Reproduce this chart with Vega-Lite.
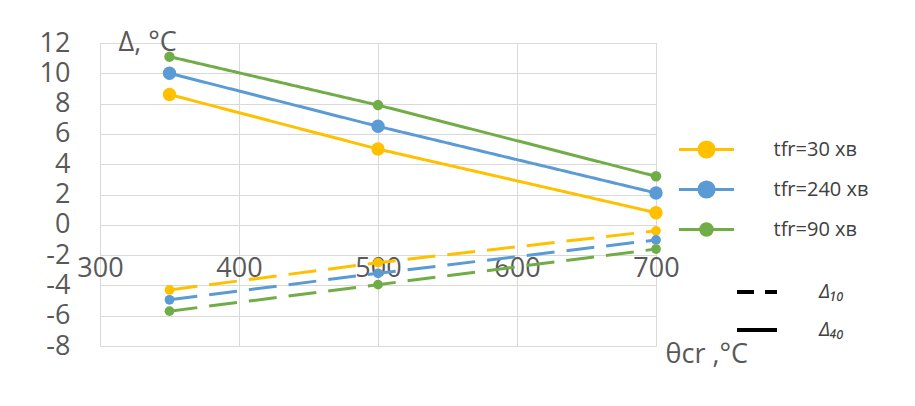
{
  "$schema": "https://vega.github.io/schema/vega-lite/v6.json",
  "width": 556,
  "height": 303,
  "autosize": "none",
  "padding": {"left": 100, "top": 43, "right": 259, "bottom": 60},
  "background": "white",
  "config": {
    "font": "Open Sans",
    "view": {"stroke": "#d9d9d9", "strokeWidth": 1},
    "axis": {"gridColor": "#d9d9d9", "gridWidth": 1, "labelColor": "#595959", "titleColor": "#595959", "labelFont": "Open Sans", "titleFont": "Open Sans", "labelFontSize": 27, "titleFontSize": 27, "titleFontWeight": "normal", "domain": false, "ticks": false, "tickSize": 0, "labelFlush": false, "labelOverlap": false}
  },
  "data": {
    "values": [
      {"theta": 350, "val": 8.6, "series": "tfr=30 хв", "type": "Δ₄₀"},
      {"theta": 500, "val": 5.0, "series": "tfr=30 хв", "type": "Δ₄₀"},
      {"theta": 700, "val": 0.8, "series": "tfr=30 хв", "type": "Δ₄₀"},
      {"theta": 350, "val": 10.0, "series": "tfr=240 хв", "type": "Δ₄₀"},
      {"theta": 500, "val": 6.5, "series": "tfr=240 хв", "type": "Δ₄₀"},
      {"theta": 700, "val": 2.1, "series": "tfr=240 хв", "type": "Δ₄₀"},
      {"theta": 350, "val": 11.1, "series": "tfr=90 хв", "type": "Δ₄₀"},
      {"theta": 500, "val": 7.9, "series": "tfr=90 хв", "type": "Δ₄₀"},
      {"theta": 700, "val": 3.2, "series": "tfr=90 хв", "type": "Δ₄₀"},
      {"theta": 350, "val": -4.3, "series": "tfr=30 хв", "type": "Δ₁₀"},
      {"theta": 500, "val": -2.5, "series": "tfr=30 хв", "type": "Δ₁₀"},
      {"theta": 700, "val": -0.4, "series": "tfr=30 хв", "type": "Δ₁₀"},
      {"theta": 350, "val": -4.95, "series": "tfr=240 хв", "type": "Δ₁₀"},
      {"theta": 500, "val": -3.2, "series": "tfr=240 хв", "type": "Δ₁₀"},
      {"theta": 700, "val": -1.0, "series": "tfr=240 хв", "type": "Δ₁₀"},
      {"theta": 350, "val": -5.7, "series": "tfr=90 хв", "type": "Δ₁₀"},
      {"theta": 500, "val": -3.95, "series": "tfr=90 хв", "type": "Δ₁₀"},
      {"theta": 700, "val": -1.6, "series": "tfr=90 хв", "type": "Δ₁₀"}
    ]
  },
  "encoding": {
    "x": {
      "field": "theta", "type": "quantitative",
      "scale": {"domain": [300, 700], "nice": false, "zero": false},
      "axis": {"values": [300, 400, 500, 600, 700], "offset": -122, "labelPadding": 31, "title": "θcr ,°C", "titleX": 565, "titleY": 138, "titleAlign": "left", "titleBaseline": "alphabetic", "titleAnchor": null}
    },
    "y": {
      "field": "val", "type": "quantitative",
      "scale": {"domain": [-8, 12], "nice": false, "zero": false},
      "axis": {"values": [-8, -6, -4, -2, 0, 2, 4, 6, 8, 10, 12], "labelExpr": "toString(datum.value)", "labelPadding": 30, "title": "Δ, °C", "titleAngle": 0, "titleX": 18, "titleY": 7, "titleAlign": "left", "titleBaseline": "alphabetic"}
    }
  },
  "layer": [
    {
      "mark": {"type": "line", "strokeWidth": 3},
      "encoding": {
        "detail": {"field": "type"},
        "order": {"field": "theta"},
        "color": {
          "field": "series", "type": "nominal",
          "scale": {"domain": ["tfr=30 хв", "tfr=240 хв", "tfr=90 хв"], "range": ["#FFC000", "#5B9BD5", "#70AD47"]},
          "legend": {
            "title": null, "orient": "none", "legendX": 591, "legendY": 91, "padding": 0,
            "symbolType": "M-2,0L2,0M-0.55,0A0.55,0.55,0,1,1,0.55,0A0.55,0.55,0,1,1,-0.55,0Z",
            "symbolSize": 756, "labelOffset": 51.5, "rowPadding": 10,
            "labelFont": "Open Sans", "labelFontSize": 20, "labelColor": "#404040", "labelLimit": 300,
            "encode": {
              "symbols": {
                "update": {
                  "fill": {"scale": "color", "field": "value"},
                  "stroke": {"scale": "color", "field": "value"},
                  "strokeWidth": {"value": 3},
                  "opacity": {"value": 1},
                  "shape": [
                    {"test": "datum.value === 'tfr=90 хв'", "value": "M-2,0L2,0M-0.42,0A0.42,0.42,0,1,1,0.42,0A0.42,0.42,0,1,1,-0.42,0Z"},
                    {"value": "M-2,0L2,0M-0.55,0A0.55,0.55,0,1,1,0.55,0A0.55,0.55,0,1,1,-0.55,0Z"}
                  ]
                }
              }
            }
          }
        },
        "strokeDash": {
          "field": "type", "type": "nominal",
          "scale": {"domain": ["Δ₁₀", "Δ₄₀"], "range": [[28, 12], [1, 0]]},
          "legend": null
        }
      }
    },
    {
      "mark": {"type": "point", "filled": true, "opacity": 1},
      "encoding": {
        "color": {"field": "series", "type": "nominal", "legend": null},
        "size": {
          "condition": [
            {"test": "datum.type === 'Δ₄₀' && datum.series !== 'tfr=90 хв'", "value": 180},
            {"test": "datum.type === 'Δ₄₀'", "value": 110}
          ],
          "value": 95
        }
      }
    },
    {
      "transform": [{"filter": "false"}],
      "mark": {"type": "line", "strokeWidth": 4, "color": "black"},
      "encoding": {
        "strokeDash": {
          "field": "type", "type": "nominal",
          "scale": {"domain": ["Δ₁₀", "Δ₄₀"], "range": [[17, 11], [1, 0]]},
          "legend": {
            "title": null, "orient": "none", "legendX": 645, "legendY": 237, "padding": 0,
            "symbolType": "M-2,0L2,0", "symbolSize": 400, "symbolStrokeWidth": 4, "symbolStrokeColor": "black",
            "labelOffset": 50, "rowPadding": 16,
            "labelFont": "Open Sans", "labelFontSize": 20, "labelFontStyle": "italic", "labelColor": "#404040"
          }
        }
      }
    }
  ],
  "resolve": {"scale": {"strokeDash": "independent"}}
}
